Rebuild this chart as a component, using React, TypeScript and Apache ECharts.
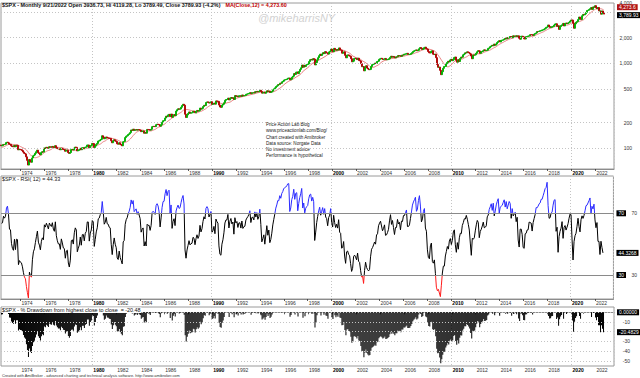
import React, { useEffect, useRef } from "react";
import * as echarts from "echarts";

// Monthly closes of $SPX, Jan 1970 onward (1970 – May 1972 only warm up the indicators)
const FIRST_YEAR = 1970;
const closes1970s = [
  85.02, 89.5, 89.63, 81.52, 76.55, 72.72, 78.05, 81.52, 84.21, 83.25, 87.2, 92.15,
  95.88, 96.75, 100.31, 103.95, 99.63, 98.7, 95.58, 99.03, 98.34, 94.23, 93.99, 102.09,
  103.94, 106.57, 107.2, 107.67, 109.53, 107.14, 107.39, 111.09, 110.55, 111.58, 116.67, 118.05,
  116.03, 111.68, 111.52, 106.97, 104.95, 104.26, 108.22, 104.25, 108.43, 108.29, 95.96, 97.55,
  96.57, 96.22, 93.98, 90.31, 87.28, 86.0, 79.31, 72.15, 63.54, 73.9, 69.97, 68.56,
  76.98, 81.59, 83.36, 87.3, 91.15, 95.19, 88.75, 86.88, 83.87, 89.04, 91.24, 90.19,
  100.86, 99.71, 102.77, 101.64, 100.18, 104.28, 103.44, 102.91, 105.24, 102.9, 102.1, 107.46,
  102.03, 99.82, 98.42, 98.44, 96.12, 100.48, 98.85, 96.77, 96.53, 92.34, 94.83, 95.1,
  89.25, 87.04, 89.21, 96.83, 97.24, 95.53, 100.68, 103.29, 102.54, 93.15, 94.7, 96.11,
  99.93, 96.28, 101.59, 101.76, 99.08, 102.91, 103.81, 109.32, 109.32, 101.82, 106.16, 107.94,
];
const closes1980s = [
  114.16, 113.66, 102.09, 106.29, 111.24, 114.24, 121.67, 122.38, 125.46, 127.47, 140.52, 135.76,
  129.55, 131.27, 136.0, 132.81, 132.59, 131.21, 130.92, 122.79, 116.18, 121.89, 126.35, 122.55,
  120.4, 113.11, 111.96, 116.44, 111.88, 109.61, 107.09, 119.51, 120.42, 133.71, 138.54, 140.64,
  145.3, 148.06, 152.96, 164.42, 162.39, 168.11, 162.56, 164.4, 166.07, 163.55, 166.4, 164.93,
  163.41, 157.06, 159.18, 160.05, 150.55, 153.18, 150.66, 166.68, 166.1, 166.09, 163.58, 167.24,
  179.63, 181.18, 180.66, 179.83, 189.55, 191.85, 190.92, 188.63, 182.08, 189.82, 202.17, 211.28,
  211.78, 226.92, 238.9, 235.52, 247.35, 250.84, 236.12, 252.93, 231.32, 243.98, 249.22, 242.17,
  274.08, 284.2, 291.7, 288.36, 290.1, 304.0, 318.66, 329.8, 321.83, 251.79, 230.3, 247.08,
  257.07, 267.82, 258.89, 261.33, 262.16, 273.5, 272.02, 261.52, 271.91, 278.97, 273.7, 277.72,
  297.47, 288.86, 294.87, 309.64, 320.52, 317.98, 346.08, 351.45, 349.15, 340.36, 345.99, 353.4,
];
const closes1990s = [
  329.08, 331.89, 339.94, 330.8, 361.23, 358.02, 356.15, 322.56, 306.05, 304.0, 322.22, 330.22,
  343.93, 367.07, 375.22, 375.35, 389.83, 371.16, 387.81, 395.43, 387.86, 392.46, 375.22, 417.09,
  408.79, 412.7, 403.69, 414.95, 415.35, 408.14, 424.21, 414.03, 417.8, 418.68, 431.35, 435.71,
  438.78, 443.38, 451.67, 440.19, 450.19, 450.53, 448.13, 463.56, 458.93, 467.83, 461.79, 466.45,
  481.61, 467.14, 445.77, 450.91, 456.5, 444.27, 458.26, 475.49, 462.69, 472.35, 453.69, 459.27,
  470.42, 487.39, 500.71, 514.71, 533.4, 544.75, 562.06, 561.88, 584.41, 581.5, 605.37, 615.93,
  636.02, 640.43, 645.5, 654.17, 669.12, 670.63, 639.95, 651.99, 687.31, 705.27, 757.02, 740.74,
  786.16, 790.82, 757.12, 801.34, 848.28, 885.14, 954.29, 899.47, 947.28, 914.62, 955.4, 970.43,
  980.28, 1049.34, 1101.75, 1111.75, 1090.82, 1133.84, 1120.67, 957.28, 1017.01, 1098.67, 1163.63, 1229.23,
  1279.64, 1238.33, 1286.37, 1335.18, 1301.84, 1372.71, 1328.72, 1320.41, 1282.71, 1362.93, 1388.91, 1469.25,
];
const closes2000s = [
  1394.46, 1366.42, 1498.58, 1452.43, 1420.6, 1454.6, 1430.83, 1517.68, 1436.51, 1429.4, 1314.95, 1320.28,
  1366.01, 1239.94, 1160.33, 1249.46, 1255.82, 1224.42, 1211.23, 1133.58, 1040.94, 1059.78, 1139.45, 1148.08,
  1130.2, 1106.73, 1147.39, 1076.92, 1067.14, 989.82, 911.62, 916.07, 815.28, 885.76, 936.31, 879.82,
  855.7, 841.15, 848.18, 916.92, 963.59, 974.5, 990.31, 1008.01, 995.97, 1050.71, 1058.2, 1111.92,
  1131.13, 1144.94, 1126.21, 1107.3, 1120.68, 1140.84, 1101.72, 1104.24, 1114.58, 1130.2, 1173.82, 1211.92,
  1181.27, 1203.6, 1180.59, 1156.85, 1191.5, 1191.33, 1234.18, 1220.33, 1228.81, 1207.01, 1249.48, 1248.29,
  1280.08, 1280.66, 1294.87, 1310.61, 1270.09, 1270.2, 1276.66, 1303.82, 1335.85, 1377.94, 1400.63, 1418.3,
  1438.24, 1406.82, 1420.86, 1482.37, 1530.62, 1503.35, 1455.27, 1473.99, 1526.75, 1549.38, 1481.14, 1468.36,
  1378.55, 1330.63, 1322.7, 1385.59, 1400.38, 1280.0, 1267.38, 1282.83, 1166.36, 968.75, 896.24, 903.25,
  825.88, 735.09, 797.87, 872.81, 919.14, 919.32, 987.48, 1020.62, 1057.08, 1036.19, 1095.63, 1115.1,
];
const closes2010s = [
  1073.87, 1104.49, 1169.43, 1186.69, 1089.41, 1030.71, 1101.6, 1049.33, 1141.2, 1183.26, 1180.55, 1257.64,
  1286.12, 1327.22, 1325.83, 1363.61, 1345.2, 1320.64, 1292.28, 1218.89, 1131.42, 1253.3, 1246.96, 1257.6,
  1312.41, 1365.68, 1408.47, 1397.91, 1310.33, 1362.16, 1379.32, 1406.58, 1440.67, 1412.16, 1416.18, 1426.19,
  1498.11, 1514.68, 1569.19, 1597.57, 1630.74, 1606.28, 1685.73, 1632.97, 1681.55, 1756.54, 1805.81, 1848.36,
  1782.59, 1859.45, 1872.34, 1883.95, 1923.57, 1960.23, 1930.67, 2003.37, 1972.29, 2018.05, 2067.56, 2058.9,
  1994.99, 2104.5, 2067.89, 2085.51, 2107.39, 2063.11, 2103.84, 1972.18, 1920.03, 2079.36, 2080.41, 2043.94,
  1940.24, 1932.23, 2059.74, 2065.3, 2096.95, 2098.86, 2173.6, 2170.95, 2168.27, 2126.15, 2198.81, 2238.83,
  2278.87, 2363.64, 2362.72, 2384.2, 2411.8, 2423.41, 2470.3, 2471.65, 2519.36, 2575.26, 2647.58, 2673.61,
  2823.81, 2713.83, 2640.87, 2648.05, 2705.27, 2718.37, 2816.29, 2901.52, 2913.98, 2711.74, 2760.17, 2506.85,
  2704.1, 2784.49, 2834.4, 2945.83, 2752.06, 2941.76, 2980.38, 2926.46, 2976.74, 3037.56, 3140.98, 3230.78,
];
const closes2020s = [
  3225.52, 2954.22, 2584.59, 2912.43, 3044.31, 3100.29, 3271.12, 3500.31, 3363.0, 3269.96, 3621.63, 3756.07,
  3714.24, 3811.15, 3972.89, 4181.17, 4204.11, 4297.5, 4395.26, 4522.68, 4307.54, 4605.38, 4567.0, 4766.18,
  4515.55, 4373.94, 4530.41, 4131.93, 4132.15, 3785.38, 4130.29, 3955.0, 3789.93,
];
const lastBar = { open: 3936.73, high: 4119.28, low: 3789.49, close: 3789.93 };

const priceTickValues = [100, 200, 500, 1000, 2000, 4000];
const priceLabelValues = [100, 200, 500, 1000, 2000];
const rsiLevels = [30, 70];
const ddGridValues = [0, -10, -20, -30, -40, -50];
const ddLabelValues = [-10, -30, -40, -50];
const maTagValue = 4273.6;
const closeTagValue = 3789.93;
const rsiTagValue = 44.3268;
const ddTagValue = -20.4829;

const FIRST_SHOWN = 29; // Jun 1972
const N_CATEGORIES = 614;

const titlePrice = "$SPX - Monthly 9/21/2022 Open 3936.73, Hi 4119.28, Lo 3789.49, Close 3789.93 (-4.2%)";
const titleMA = "MA(Close,12) = 4,273.60";
const titleRsi = "$SPX - RSI( 12) = 44.33";
const titleDD = "$SPX - % Drawdown from highest close to close  = -20.48";
const notes = [
  "Price Action Lab Blog",
  "www.priceactionlab.com/Blog/",
  "Chart created with Amibroker",
  "Data source: Norgate Data",
  "No investment advice",
  "Performance is hypothetical",
];
const footer = "Created with AmiBroker - advanced charting and technical analysis software. http://www.amibroker.com";

const FONT = "Liberation Sans, Arial, sans-serif";
const TITLE_SIZE = 5.4;

function buildOption() {
  const closes = [...closes1970s, ...closes1980s, ...closes1990s, ...closes2000s, ...closes2010s, ...closes2020s];
  const monthKey = (i: number) => {
    const y = FIRST_YEAR + Math.floor(i / 12);
    const m = (i % 12) + 1;
    return `${y}-${m < 10 ? "0" + m : m}`;
  };
  const categories = Array.from({ length: N_CATEGORIES }, (_, k) => monthKey(k + FIRST_SHOWN));

  // MA(12)
  const ma: (number | null)[] = closes.map((_, i) => {
    if (i < 11) return null;
    let s = 0;
    for (let j = i - 11; j <= i; j++) s += closes[j];
    return s / 12;
  });
  // RSI(12) Wilder
  const n = 12;
  const rsi: (number | null)[] = closes.map(() => null);
  let ag = 0, al = 0;
  for (let i = 1; i <= n; i++) {
    const d = closes[i] - closes[i - 1];
    ag += Math.max(d, 0);
    al += Math.max(-d, 0);
  }
  ag /= n; al /= n;
  rsi[n] = (100 * ag) / (ag + al);
  for (let i = n + 1; i < closes.length; i++) {
    const d = closes[i] - closes[i - 1];
    ag = (ag * (n - 1) + Math.max(d, 0)) / n;
    al = (al * (n - 1) + Math.max(-d, 0)) / n;
    rsi[i] = (100 * ag) / (ag + al);
  }
  // Drawdown from highest close
  let peak = -Infinity;
  const dd = closes.map((c) => {
    peak = Math.max(peak, c);
    return (c / peak - 1) * 100;
  });

  const candles: number[][] = [];
  for (let i = FIRST_SHOWN; i < closes.length; i++) {
    if (i === closes.length - 1) {
      candles.push([lastBar.open, lastBar.close, lastBar.low, lastBar.high]);
    } else {
      const o = closes[i - 1], c = closes[i];
      candles.push([o, c, Math.min(o, c), Math.max(o, c)]);
    }
  }
  const maShown = ma.slice(FIRST_SHOWN);
  const rsiShown = rsi.slice(FIRST_SHOWN);
  const ddShown = dd.slice(FIRST_SHOWN);

  const yearOf = (idx: number) => FIRST_YEAR + Math.floor((idx + FIRST_SHOWN) / 12);
  const isJan = (idx: number) => (idx + FIRST_SHOWN) % 12 === 0;
  const isLabelMonth = (idx: number) => isJan(idx) && yearOf(idx) % 2 === 0;
  const isDecade = (idx: number) => isJan(idx) && yearOf(idx) % 10 === 0;

  const makeX = (gi: number) => ({
    type: "category",
    gridIndex: gi,
    data: categories,
    boundaryGap: true,
    axisLine: { show: true, lineStyle: { color: "#8c8c8c", width: 1 } },
    axisTick: { show: true, interval: isLabelMonth, alignWithLabel: true, length: 2, lineStyle: { color: "#333", width: 0.8 } },
    axisLabel: {
      show: true,
      interval: isLabelMonth,
      formatter: (v: string) => {
        const y = v.slice(0, 4);
        return +y % 10 === 0 ? `{b|${y}}` : y;
      },
      fontSize: 5,
      fontFamily: FONT,
      color: "#333",
      align: "left",
      margin: 1,
      padding: [0, 0, 0, 1],
      rich: { b: { fontSize: 5, fontWeight: "bold", color: "#000", fontFamily: FONT } },
    },
    splitLine: { show: true, interval: isDecade, lineStyle: { color: "#c4c4c4", type: [1, 2], width: 1 } },
  });

  const tagLabel = (text: string, bg: string, dy = 0) => ({
    show: true,
    position: "end",
    distance: 3,
    formatter: text,
    backgroundColor: bg,
    color: "#fff",
    padding: [1, 2, 0, 2],
    fontSize: 5,
    fontFamily: FONT,
    offset: [0, dy],
  });
  const hiddenLine = { color: "transparent", width: 0 };

  const gridBase = { left: 1, width: 613, show: true, borderColor: "#9a9a9a", borderWidth: 1, backgroundColor: "#fff" };

  return {
    animation: false,
    backgroundColor: "#fff",
    textStyle: { fontFamily: FONT },
    grid: [
      { ...gridBase, top: 3, height: 166 },
      { ...gridBase, top: 176, height: 123 },
      { ...gridBase, top: 307, height: 59 },
    ],
    xAxis: [makeX(0), makeX(1), makeX(2)],
    yAxis: [
      {
        type: "log",
        gridIndex: 0,
        position: "right",
        min: 57.1,
        max: 5122,
        axisLine: { show: false },
        axisTick: { show: false },
        splitLine: { show: false },
        axisLabel: {
          customValues: priceLabelValues,
          formatter: (v: number) => (v >= 1000 ? v.toLocaleString("en-US") : String(v)),
          fontSize: 5,
          fontFamily: FONT,
          color: "#333",
          align: "right",
          margin: 18,
        },
      },
      {
        type: "value",
        gridIndex: 1,
        position: "right",
        min: 14.44,
        max: 94.18,
        axisLine: { show: false },
        axisTick: { show: false },
        splitLine: { show: false },
        axisLabel: { customValues: rsiLevels, fontSize: 5, fontFamily: FONT, color: "#333", align: "left", margin: 18 },
      },
      {
        type: "value",
        gridIndex: 2,
        position: "right",
        min: -55.36,
        max: 5.46,
        axisLine: { show: false },
        axisTick: { show: false },
        splitLine: { show: false },
        axisLabel: { customValues: ddLabelValues, fontSize: 5, fontFamily: FONT, color: "#333", align: "right", margin: 16 },
      },
    ],
    visualMap: [
      {
        type: "piecewise",
        show: false,
        seriesIndex: 3,
        dimension: 1,
        pieces: [
          { lt: 30, color: "#ff1a1a" },
          { gte: 30, lte: 70, color: "#000000" },
          { gt: 70, color: "#2a2aff" },
        ],
      },
    ],
    title: [
      {
        left: 2,
        top: 1.5,
        text: `{a|${titlePrice}} {r|${titleMA}}`,
        textStyle: {
          lineHeight: 6,
          rich: {
            a: { fontSize: TITLE_SIZE, color: "#111", fontFamily: FONT, lineHeight: 6 },
            r: { fontSize: TITLE_SIZE, color: "#c00000", fontFamily: FONT, lineHeight: 6 },
          },
        },
        padding: 0,
      },
      { left: 2, top: 176.8, text: titleRsi, padding: 0, textStyle: { fontSize: TITLE_SIZE, color: "#111", fontWeight: "normal", fontFamily: FONT } },
      {
        left: 2,
        top: 307.5,
        text: titleDD,
        padding: [0, 1, 0, 0],
        backgroundColor: "#fff",
        textStyle: { fontSize: TITLE_SIZE, lineHeight: 5.6, color: "#111", fontWeight: "normal", fontFamily: FONT },
      },
    ],
    graphic: [
      {
        type: "text",
        left: 258,
        top: 12,
        style: { text: "@mikeharrisNY", font: `italic 11px ${FONT}`, fill: "#d2d2d2" },
      },
      {
        type: "text",
        left: 266,
        top: 121.5,
        style: { text: notes.join("\n"), font: `4.6px ${FONT}`, fill: "#222", lineHeight: 6.25 },
      },
      {
        type: "text",
        right: 8,
        top: 0,
        style: { text: "4,000", font: `5px ${FONT}`, fill: "#333" },
      },
      {
        type: "text",
        left: 2,
        top: 373.5,
        style: { text: footer, font: `3.9px ${FONT}`, fill: "#333" },
      },
    ],
    series: [
      {
        type: "line",
        xAxisIndex: 0,
        yAxisIndex: 0,
        data: [],
        markLine: {
          silent: true,
          symbol: "none",
          data: priceTickValues.map((v) => ({ yAxis: v, label: { show: false }, lineStyle: { color: "#c4c4c4", type: [1, 2], width: 1 } })),
        },
      },
      {
        type: "line",
        xAxisIndex: 0,
        yAxisIndex: 0,
        data: maShown,
        showSymbol: false,
        symbol: "none",
        lineStyle: { color: "#e57373", width: 0.9 },
        z: 2,
      },
      {
        type: "candlestick",
        xAxisIndex: 0,
        yAxisIndex: 0,
        data: candles,
        barWidth: 1.5,
        large: false,
        itemStyle: { color: "#00b000", color0: "#b00000", borderColor: "#00b000", borderColor0: "#b00000", borderWidth: 0.9 },
        z: 3,
        markLine: {
          silent: true,
          symbol: "none",
          data: [
            { yAxis: maTagValue, lineStyle: hiddenLine, label: tagLabel("4,273.6", "#b01414", -2.5) },
            { yAxis: closeTagValue, lineStyle: hiddenLine, label: tagLabel("3,789.93", "#000", 1) },
          ],
        },
      },
      {
        type: "line",
        xAxisIndex: 1,
        yAxisIndex: 1,
        data: rsiShown,
        showSymbol: false,
        symbol: "none",
        lineStyle: { width: 1 },
        z: 4,
      },
      {
        type: "line",
        xAxisIndex: 1,
        yAxisIndex: 1,
        data: [],
        z: 2,
        markLine: {
          silent: true,
          symbol: "none",
          data: [
            ...rsiLevels.map((v) => ({ yAxis: v, lineStyle: { color: "#8a8a8a", type: "solid", width: 1 }, label: tagLabel(String(v), "#000") })),
            { yAxis: rsiTagValue, lineStyle: hiddenLine, label: tagLabel(String(rsiTagValue), "#000") },
          ],
        },
      },
      {
        type: "bar",
        xAxisIndex: 2,
        yAxisIndex: 2,
        data: ddShown,
        barWidth: 0.75,
        itemStyle: { color: "#000" },
        z: 3,
      },
      {
        type: "line",
        xAxisIndex: 2,
        yAxisIndex: 2,
        data: [],
        z: 2,
        markLine: {
          silent: true,
          symbol: "none",
          data: [
            ...ddGridValues.map((v) => ({ yAxis: v, label: { show: false }, lineStyle: { color: "#c4c4c4", type: [1, 2], width: 1 } })),
            { yAxis: 0, lineStyle: hiddenLine, label: tagLabel("0.00000", "#000") },
            { yAxis: ddTagValue, lineStyle: hiddenLine, label: tagLabel(String(ddTagValue), "#000") },
          ],
        },
      },
    ],
  };
}

export default function App() {
  const ref = useRef<HTMLDivElement>(null);
  useEffect(() => {
    document.body.style.margin = "0";
    if (!ref.current) return;
    const chart = echarts.init(ref.current, null, { renderer: "svg" });
    chart.setOption(buildOption() as any);
    return () => chart.dispose();
  }, []);
  return <div ref={ref} style={{ width: 640, height: 378 }} />;
}
